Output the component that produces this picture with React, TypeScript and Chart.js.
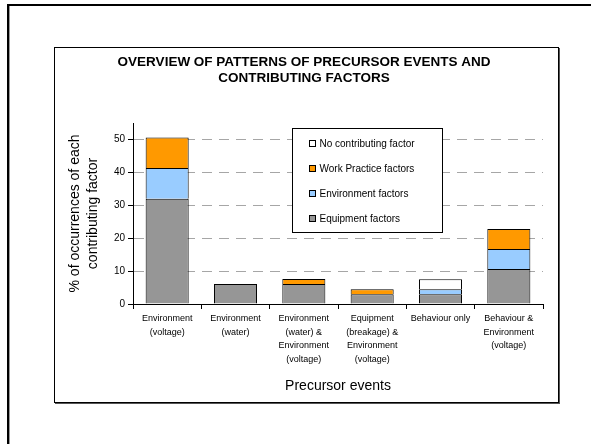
import React, { useEffect, useRef } from "react";
import { Chart, registerables } from "chart.js";

Chart.register(...registerables);

const FONT = 'Arial, "Liberation Sans", sans-serif';

const categories: string[][] = [
  ["Environment", "(voltage)"],
  ["Environment", "(water)"],
  ["Environment", "(water) &", "Environment", "(voltage)"],
  ["Equipment", "(breakage) &", "Environment", "(voltage)"],
  ["Behaviour only"],
  ["Behaviour &", "Environment", "(voltage)"],
];

const equipmentFactors = [32.0, 6.1, 6.1, 3.0, 3.0, 10.6];
const environmentFactors = [9.3, null, null, null, 1.5, 6.1];
const workPracticeFactors = [9.3, null, 1.5, 1.5, null, 6.1];
const noContributingFactor = [null, null, null, null, 3.0, null];

const seriesLabels = [
  "Equipment factors",
  "Environment factors",
  "Work Practice factors",
  "No contributing factor",
];
const seriesColors = ["#969696", "#99CCFF", "#FF9900", "#FFFFFF"];

const yMax = 55;
const yStep = 10;
const yLabelMax = 50;

const titleLines = ["OVERVIEW OF PATTERNS OF PRECURSOR EVENTS AND", "CONTRIBUTING FACTORS"];
const yTitleLines = ["% of occurrences of each", "contributing factor"];
const xTitle = "Precursor events";

const framePlugin = {
  id: "frames",
  beforeDraw(chart: any) {
    const { ctx, width, height } = chart;
    ctx.save();
    ctx.fillStyle = "#ffffff";
    ctx.fillRect(0, 0, width, height);
    // outer frame (top + left visible)
    ctx.fillStyle = "#000000";
    ctx.fillRect(7, 4, width - 7, 2);
    ctx.fillRect(7, 4, 2, height - 4);
    ctx.fillStyle = "#9a9a9a";
    ctx.fillRect(9, 6, 1, height - 6);
    // inner frame
    ctx.strokeStyle = "#000000";
    ctx.lineWidth = 1;
    ctx.strokeRect(54.5, 47.5, 504, 355);
    ctx.strokeStyle = "#555555";
    ctx.beginPath();
    ctx.moveTo(559.5, 48);
    ctx.lineTo(559.5, 404);
    ctx.moveTo(55, 403.5);
    ctx.lineTo(560, 403.5);
    ctx.stroke();
    ctx.restore();
  },
};

const legendPlugin = {
  id: "boxLegend",
  afterDatasetsDraw(chart: any) {
    const { ctx, chartArea } = chart;
    const x = Math.round(chartArea.left + 159) + 0.5;
    const y = Math.round(chartArea.top + 4.5) + 0.5;
    const w = 150;
    const h = 104;
    ctx.save();
    ctx.fillStyle = "#ffffff";
    ctx.fillRect(x, y, w, h);
    ctx.strokeStyle = "#000000";
    ctx.lineWidth = 1;
    ctx.strokeRect(x, y, w, h);
    const ds = chart.data.datasets.slice().reverse();
    ds.forEach((d: any, i: number) => {
      const cy = Math.round(y + 15 + i * 25.2);
      ctx.fillStyle = d.backgroundColor;
      ctx.fillRect(x + 17, cy - 3, 6, 6);
      ctx.strokeStyle = "#000000";
      ctx.strokeRect(x + 17, cy - 3.5, 6, 6);
      ctx.fillStyle = "#000000";
      ctx.font = `10px ${FONT}`;
      ctx.textBaseline = "middle";
      ctx.textAlign = "left";
      ctx.fillText(d.label, x + 27, cy);
    });
    ctx.restore();
  },
};

export default function App() {
  const ref = useRef<HTMLCanvasElement | null>(null);

  useEffect(() => {
    if (!ref.current) return;
    const seriesData = [equipmentFactors, environmentFactors, workPracticeFactors, noContributingFactor];
    const chart = new Chart(ref.current, {
      type: "bar",
      data: {
        labels: categories,
        datasets: seriesData.map((d, i) => ({
          label: seriesLabels[i],
          data: d,
          backgroundColor: seriesColors[i],
          borderColor: "#000000",
          borderWidth: 1,
          borderSkipped: "start",
          barPercentage: 0.63,
          categoryPercentage: 1,
        })),
      },
      options: {
        responsive: false,
        animation: false,
        layout: { padding: { left: 65, right: 48, top: 0, bottom: 49 } },
        plugins: {
          legend: { display: false },
          tooltip: { enabled: false },
          title: {
            display: true,
            text: titleLines,
            color: "#000000",
            font: { family: FONT, size: 13.5, weight: "bold", lineHeight: 16 / 13.5 },
            padding: { top: 54, bottom: 37 },
          },
        },
        scales: {
          x: {
            stacked: true,
            offset: true,
            grid: {
              display: true,
              offset: true,
              drawOnChartArea: false,
              drawTicks: true,
              tickLength: 5,
              tickColor: "#000000",
              color: "#000000",
            },
            border: { display: true, color: "#000000", width: 1 },
            ticks: {
              color: "#000000",
              font: { family: FONT, size: 9, lineHeight: 1.5 },
              padding: 3,
              maxRotation: 0,
              minRotation: 0,
              autoSkip: false,
            },
            title: {
              display: true,
              text: xTitle,
              color: "#000000",
              font: { family: FONT, size: 14 },
              padding: { top: 0, bottom: 0 },
            },
            afterFit: (scale: any) => {
              scale.height = 91;
            },
          },
          y: {
            stacked: true,
            min: 0,
            max: yMax,
            grid: {
              color: "#a6a6a6",
              tickColor: "#000000",
              tickLength: 5,
              lineWidth: 1,
            },
            border: { display: true, color: "#000000", width: 1, dash: [10, 7] },
            ticks: {
              stepSize: yStep,
              color: "#000000",
              font: { family: FONT, size: 10 },
              padding: 3,
            },
            afterBuildTicks: (scale: any) => {
              scale.ticks = scale.ticks.filter((t: any) => t.value <= yLabelMax);
            },
            title: {
              display: true,
              text: yTitleLines,
              color: "#000000",
              font: { family: FONT, size: 14, lineHeight: 18 / 14 },
              padding: { top: 1, bottom: 0 },
            },
            afterFit: (scale: any) => {
              scale.width = 68;
            },
          },
        },
      },
      plugins: [framePlugin, legendPlugin],
    });
    return () => chart.destroy();
  }, []);

  return (
    <div style={{ position: "fixed", left: 0, top: 0, width: 591, height: 444 }}>
      <canvas ref={ref} width={591} height={444} style={{ width: 591, height: 444 }} />
    </div>
  );
}
